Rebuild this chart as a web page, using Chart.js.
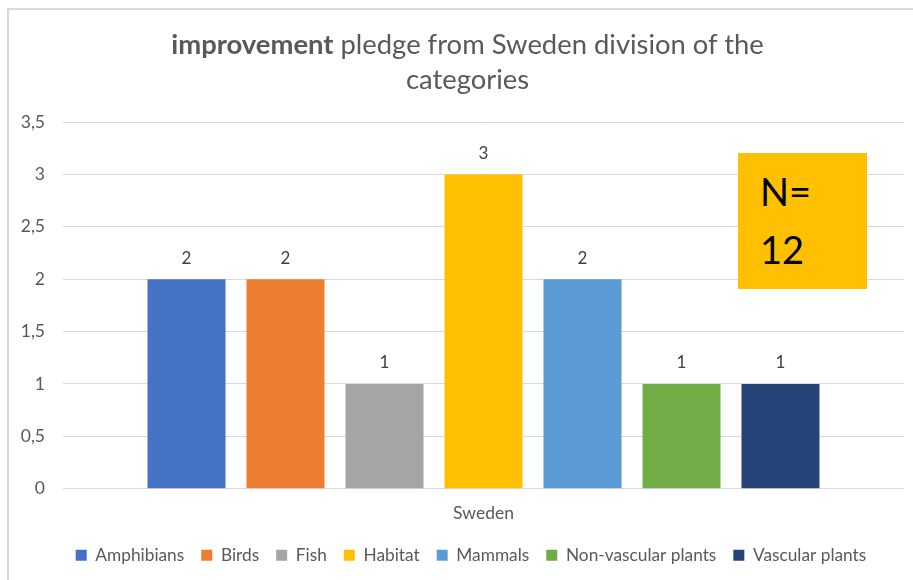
<!DOCTYPE html>
<html>
<head>
<meta charset="utf-8">
<script src="https://cdn.jsdelivr.net/npm/chart.js@4.4.0/dist/chart.umd.min.js"></script>
<style>
  body { margin: 0; background: #fff; overflow: hidden; }
  #wrap { position: relative; width: 913px; height: 580px; }
  #frame { position: absolute; left: 7px; top: 8px; width: 920px; height: 590px;
           border-left: 2px solid #d9d9d9; border-top: 2px solid #d9d9d9; }
  #titulo { position: absolute; left: 11px; top: 26px; width: 913px; text-align: center;
            font-family: Lato, "Open Sans", sans-serif; font-size: 27.4px; line-height: 35px; color: #595959; }
  #caja { position: absolute; left: 738px; top: 153px; width: 129px; height: 136px;
          background: #FFC000; font-family: Lato, "Open Sans", sans-serif; font-size: 38px;
          line-height: 58px; color: #000; padding: 9px 0 0 22px; box-sizing: border-box; }
  canvas { position: absolute; left: 0; top: 0; }
</style>
</head>
<body>
<div id="wrap">
  <div id="frame"></div>
  <canvas id="myChart" width="913" height="580"></canvas>
  <div id="titulo"><b>improvement</b> pledge from Sweden division of the<br>categories</div>
  <div id="caja">N=<br>12</div>
</div>
<script>
let categorias = ["Sweden"];
let especies = ["Amphibians","Birds","Fish","Habitat","Mammals","Non-vascular plants","Vascular plants"];
let valores = [2, 2, 1, 3, 2, 1, 1];
let colores = ["#4472C4","#ED7D31","#A5A5A5","#FFC000","#5B9BD5","#70AD47","#264478"];
let ticksY = [0, 0.5, 1, 1.5, 2, 2.5, 3, 3.5];

let fuente = "Lato";
let gris = "#595959";

// etiquetas de valor encima de cada barra
const etiquetas = {
    id: "etiquetas",
    afterLayout(chart){
        // la leyenda del original esta centrada un poco a la derecha
        chart.legend.left += 19;
        chart.legend.right += 19;
    },
    afterDatasetsDraw(chart){
        const ctx = chart.ctx;
        ctx.save();
        ctx.font = "17px " + fuente;
        ctx.fillStyle = "#404040";
        ctx.textAlign = "center";
        ctx.textBaseline = "middle";
        chart.data.datasets.forEach((ds, i) => {
            const meta = chart.getDatasetMeta(i);
            meta.data.forEach((bar, j) => {
                ctx.fillText(String(ds.data[j]), bar.x, bar.y - 21);
            });
        });
        ctx.restore();
    }
};

const datasets = especies.map((nombre, i) => ({
    label: nombre,
    data: [valores[i]],
    backgroundColor: colores[i],
    categoryPercentage: 0.824,
    barPercentage: 0.788
}));

const conf = {
    type: "bar",
    data: { labels: categorias, datasets },
    options: {
        responsive: false,
        animation: false,
        layout: { padding: { top: 122, right: 9, left: 0, bottom: 6 } },
        plugins: {
            title: { display: false },
            tooltip: { enabled: false },
            legend: {
                position: "bottom",
                labels: {
                    boxWidth: 11, boxHeight: 11, padding: 17,
                    color: gris, font: { family: fuente, size: 17.3 }
                }
            }
        },
        scales: {
            x: {
                grid: { display: false, drawTicks: false },
                border: { display: false },
                ticks: { color: gris, padding: 14, font: { family: fuente, size: 17.5 } },
                afterFit(scale){ scale.height = 41; }
            },
            y: {
                min: 0, max: 3.5,
                afterBuildTicks(scale){ scale.ticks = ticksY.map(v => ({ value: v })); },
                grid: { color: "#d9d9d9", drawTicks: false },
                border: { display: false },
                ticks: {
                    color: gris, padding: 18, font: { family: fuente, size: 17.5 },
                    callback: v => String(v).replace(".", ",")
                },
                afterFit(scale){ scale.width = 63; }
            }
        }
    },
    plugins: [etiquetas]
};

let grafico = new Chart(document.querySelector("#myChart"), conf);
</script>
</body>
</html>
